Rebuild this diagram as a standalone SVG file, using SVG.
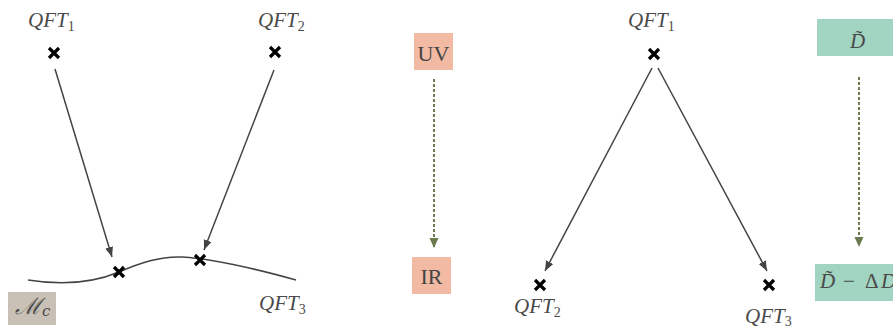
<svg xmlns="http://www.w3.org/2000/svg" width="893" height="329" viewBox="0 0 893 329">
<style>
.lbl{font-family:"Liberation Serif","Times New Roman",serif;font-style:italic;font-size:21px;fill:#4a4a4a}
.sub{font-style:normal;font-size:14px}
.box{font-family:"Liberation Serif","Times New Roman",serif;font-size:22px;fill:#444}
.cross{stroke:#000;stroke-width:3.2;fill:none}
.edge{stroke:#444;stroke-width:1.5;fill:none}
.dot{stroke:#6b7a4f;stroke-width:2;stroke-dasharray:3 2;fill:none}
</style>
<defs>
<path id="x" class="cross" d="M-5,-5L5,5M-5,5L5,-5"/>
<marker id="ah" markerUnits="userSpaceOnUse" markerWidth="11" markerHeight="9" refX="10" refY="4" orient="auto"><path d="M0,0L10,4L0,8z" fill="#444"/></marker>
<marker id="ag" markerUnits="userSpaceOnUse" markerWidth="11" markerHeight="10" refX="10" refY="4.5" orient="auto"><path d="M0,0L10,4.5L0,9z" fill="#6b7a4f"/></marker>
</defs>
<g id="connectors">
<line class="edge" x1="55" y1="69" x2="112" y2="257" marker-end="url(#ah)"/>
<line class="edge" x1="274" y1="70" x2="204" y2="250" marker-end="url(#ah)"/>
<line class="edge" x1="652" y1="68" x2="545" y2="271" marker-end="url(#ah)"/>
<line class="edge" x1="658" y1="68" x2="767" y2="271" marker-end="url(#ah)"/>
<line class="dot" x1="434" y1="79" x2="434" y2="248" marker-end="url(#ag)"/>
<line class="dot" x1="859" y1="77" x2="859" y2="247" marker-end="url(#ag)"/>
</g>
<g id="qft1-left"><text class="lbl" x="28" y="27">QFT<tspan class="sub" dy="4">1</tspan></text><use href="#x" x="54" y="53"/></g>
<g id="qft2-left"><text class="lbl" x="258" y="27">QFT<tspan class="sub" dy="4">2</tspan></text><use href="#x" x="275" y="52"/></g>
<g id="manifold">
<path class="edge" d="M28,280C65,286 95,282 119,272C140,263 160,256 182,257C215,259 260,270 296,280"/>
<use href="#x" x="119" y="272"/><use href="#x" x="200" y="260"/>
</g>
<g id="mc"><rect x="8" y="292" width="48" height="33" fill="#c9c1b5"/><text class="lbl" x="15" y="314" style="font-family:'DejaVu Serif',serif;font-size:23px">ℳ<tspan font-size="15px" dy="2">c</tspan></text></g>
<g id="qft3-left"><text class="lbl" x="259" y="310">QFT<tspan class="sub" dy="4">3</tspan></text></g>
<g id="uv"><rect x="414" y="33" width="39" height="37" fill="#f2b9a3"/><text class="box" x="433.5" y="61" text-anchor="middle">UV</text></g>
<g id="ir"><rect x="412" y="257" width="39" height="37" fill="#f2b9a3"/><text class="box" x="431.5" y="284" text-anchor="middle">IR</text></g>
<g id="qft1-right"><text class="lbl" x="628" y="27">QFT<tspan class="sub" dy="4">1</tspan></text><use href="#x" x="654" y="54"/></g>
<g id="qft2-right"><use href="#x" x="540" y="285"/><text class="lbl" x="514" y="313">QFT<tspan class="sub" dy="4">2</tspan></text></g>
<g id="qft3-right"><use href="#x" x="769" y="285"/><text class="lbl" x="745" y="323">QFT<tspan class="sub" dy="3">3</tspan></text></g>
<g id="d-top"><rect x="817" y="19" width="80" height="37" fill="#a1d5c1"/><text class="lbl" x="850" y="48" font-size="22px">D̃</text></g>
<g id="d-bottom"><rect x="815" y="264" width="82" height="37" fill="#a1d5c1"/><text class="lbl" x="820" y="288" font-size="22px">D̃<tspan x="843" font-style="normal">−</tspan><tspan x="865" font-style="normal">Δ</tspan><tspan x="881">D</tspan></text></g>
</svg>
